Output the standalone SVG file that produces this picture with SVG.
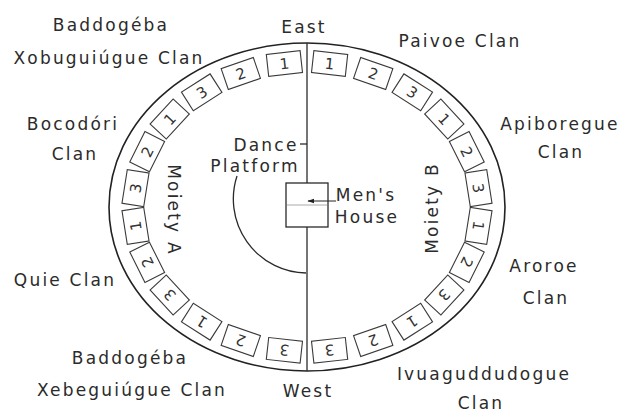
<svg xmlns="http://www.w3.org/2000/svg" width="619" height="414" viewBox="0 0 619 414">
<defs>
<style>
.lbl{font-family:"DejaVu Sans","Liberation Sans",sans-serif;font-size:17px;fill:#2b2b2b;letter-spacing:2.2px;text-anchor:middle}
.num{font-family:"DejaVu Sans","Liberation Sans",sans-serif;font-size:15px;fill:#333;text-anchor:middle}
.box{fill:none;stroke:#3a3a3a;stroke-width:1.1}
.ln{fill:none;stroke:#222;stroke-width:1.6}
.thin{fill:none;stroke:#2a2a2a;stroke-width:1.3}
</style>
<marker id="ah" viewBox="0 0 10 10" refX="9" refY="5" markerWidth="7" markerHeight="7" orient="auto-start-reverse" markerUnits="userSpaceOnUse">
<path d="M0,1.5 L10,5 L0,8.5 Z" fill="#222"/>
</marker>
</defs>
<rect width="619" height="414" fill="#ffffff"/>

<g id="village-ring">
<ellipse cx="307" cy="207" rx="198" ry="164" class="ln" stroke-width="2"/>
</g>

<g id="connectors">
<line x1="307" y1="43" x2="307" y2="183" class="thin"/>
<line x1="307" y1="227" x2="307" y2="371" class="thin"/>
<line x1="300" y1="144" x2="307" y2="144" class="thin"/>
<line x1="336" y1="201" x2="308" y2="201" stroke="#222" stroke-width="1" marker-end="url(#ah)"/>
</g>

<g id="mens-house">
<rect x="286" y="183" width="42" height="44" class="thin"/>
<line x1="287" y1="205" x2="327" y2="205" stroke="#aaa" stroke-width="1"/>
<text class="lbl" x="366" y="201">Men's</text>
<text class="lbl" x="367" y="223">House</text>
</g>

<g id="dance-platform">
<path d="M237,176 A74,74 0 0 0 306,273" class="thin"/>
<text class="lbl" x="266" y="151">Dance</text>
<text class="lbl" x="255" y="172">Platform</text>
</g>

<g id="east"><text class="lbl" x="304" y="33">East</text></g>
<g id="west"><text class="lbl" x="308" y="397">West</text></g>

<g id="moiety-a"><text class="lbl" transform="translate(168,210) rotate(90)">Moiety A</text></g>
<g id="moiety-b"><text class="lbl" transform="translate(438,208) rotate(-90)">Moiety B</text></g>

<g id="clan-paivoe">
<text class="lbl" x="460" y="47">Paivoe Clan</text>
<g transform="translate(329.6,63.5) rotate(6.25)"><rect class="box" x="-17" y="-11" width="34" height="22"/><text class="num" y="5.5">1</text></g>
<g transform="translate(373.2,73.5) rotate(19)"><rect class="box" x="-17" y="-11" width="34" height="22"/><text class="num" y="5.5">2</text></g>
<g transform="translate(412.3,92.3) rotate(32.6)"><rect class="box" x="-17" y="-11" width="34" height="22"/><text class="num" y="5.5">3</text></g>
</g>

<g id="clan-apiboregue">
<text class="lbl" x="560" y="130">Apiboregue</text>
<text class="lbl" x="561" y="158">Clan</text>
<g transform="translate(444.3,119) rotate(47.3)"><rect class="box" x="-17" y="-11" width="34" height="22"/><text class="num" y="5.5">1</text></g>
<g transform="translate(466.8,151.7) rotate(63.5)"><rect class="box" x="-17" y="-11" width="34" height="22"/><text class="num" y="5.5">2</text></g>
<g transform="translate(478.5,188.1) rotate(81)"><rect class="box" x="-17" y="-11" width="34" height="22"/><text class="num" y="5.5">3</text></g>
</g>

<g id="clan-aroroe">
<text class="lbl" x="544" y="272">Aroroe</text>
<text class="lbl" x="546" y="304">Clan</text>
<g transform="translate(478.5,225.9) rotate(99)"><rect class="box" x="-17" y="-11" width="34" height="22"/><text class="num" y="5.5">1</text></g>
<g transform="translate(466.8,262.3) rotate(116.5)"><rect class="box" x="-17" y="-11" width="34" height="22"/><text class="num" y="5.5">2</text></g>
<g transform="translate(444.3,295) rotate(132.7)"><rect class="box" x="-17" y="-11" width="34" height="22"/><text class="num" y="5.5">3</text></g>
</g>

<g id="clan-ivuaguddudogue">
<text class="lbl" x="484" y="380">Ivuaguddudogue</text>
<text class="lbl" x="481" y="409">Clan</text>
<g transform="translate(412.3,321.7) rotate(147.4)"><rect class="box" x="-17" y="-11" width="34" height="22"/><text class="num" y="5.5">1</text></g>
<g transform="translate(373.2,340.5) rotate(161)"><rect class="box" x="-17" y="-11" width="34" height="22"/><text class="num" y="5.5">2</text></g>
<g transform="translate(329.6,350.3) rotate(173.75)"><rect class="box" x="-17" y="-11" width="34" height="22"/><text class="num" y="5.5">3</text></g>
</g>

<g id="clan-baddogeba-xobuguiugue">
<text class="lbl" x="111" y="31">Baddogéba</text>
<text class="lbl" x="109" y="64">Xobuguiúgue Clan</text>
<g transform="translate(284.4,63.5) rotate(-6.25)"><rect class="box" x="-17" y="-11" width="34" height="22"/><text class="num" y="5.5">1</text></g>
<g transform="translate(240.8,73.5) rotate(-19)"><rect class="box" x="-17" y="-11" width="34" height="22"/><text class="num" y="5.5">2</text></g>
<g transform="translate(201.7,92.3) rotate(-32.6)"><rect class="box" x="-17" y="-11" width="34" height="22"/><text class="num" y="5.5">3</text></g>
</g>

<g id="clan-bocodori">
<text class="lbl" x="73" y="130">Bocodóri</text>
<text class="lbl" x="75" y="160">Clan</text>
<g transform="translate(169.7,119) rotate(-47.3)"><rect class="box" x="-17" y="-11" width="34" height="22"/><text class="num" y="5.5">1</text></g>
<g transform="translate(147.2,151.7) rotate(-63.5)"><rect class="box" x="-17" y="-11" width="34" height="22"/><text class="num" y="5.5">2</text></g>
<g transform="translate(135.5,188.1) rotate(-81)"><rect class="box" x="-17" y="-11" width="34" height="22"/><text class="num" y="5.5">3</text></g>
</g>

<g id="clan-quie">
<text class="lbl" x="65" y="286">Quie Clan</text>
<g transform="translate(135.5,225.9) rotate(-99)"><rect class="box" x="-17" y="-11" width="34" height="22"/><text class="num" y="5.5">1</text></g>
<g transform="translate(147.2,262.3) rotate(-116.5)"><rect class="box" x="-17" y="-11" width="34" height="22"/><text class="num" y="5.5">2</text></g>
<g transform="translate(169.7,295) rotate(-132.7)"><rect class="box" x="-17" y="-11" width="34" height="22"/><text class="num" y="5.5">3</text></g>
</g>

<g id="clan-baddogeba-xebeguiugue">
<text class="lbl" x="130" y="364">Baddogéba</text>
<text class="lbl" x="132" y="396">Xebeguiúgue Clan</text>
<g transform="translate(201.7,321.7) rotate(-147.4)"><rect class="box" x="-17" y="-11" width="34" height="22"/><text class="num" y="5.5">1</text></g>
<g transform="translate(240.8,340.5) rotate(-161)"><rect class="box" x="-17" y="-11" width="34" height="22"/><text class="num" y="5.5">2</text></g>
<g transform="translate(284.4,350.3) rotate(-173.75)"><rect class="box" x="-17" y="-11" width="34" height="22"/><text class="num" y="5.5">3</text></g>
</g>
</svg>
